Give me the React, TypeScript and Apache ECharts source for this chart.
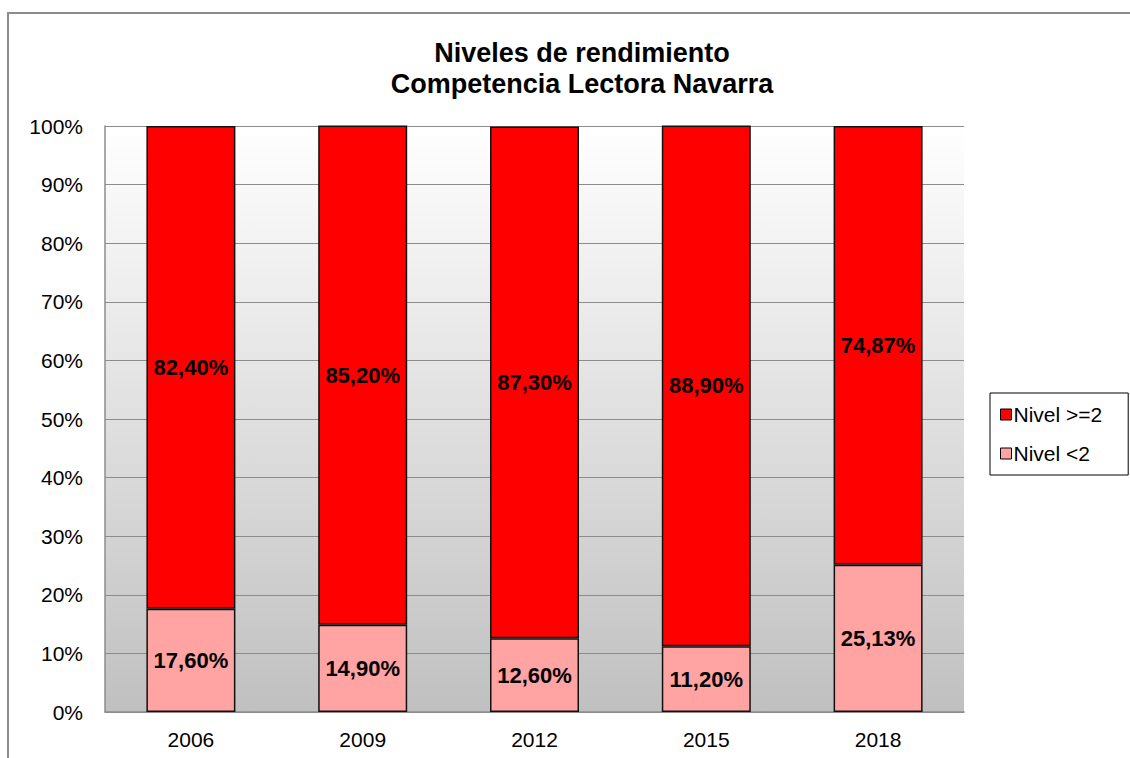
import React, { useEffect, useRef } from "react";
import * as echarts from "echarts";

const categories = ["2006", "2009", "2012", "2015", "2018"];
const nivelBajo = [17.6, 14.9, 12.6, 11.2, 25.13];
const nivelAlto = [82.4, 85.2, 87.3, 88.9, 74.87];
const yTicks = [0, 10, 20, 30, 40, 50, 60, 70, 80, 90, 100];

const fmt = (v: number) => v.toFixed(2).replace(".", ",") + "%";

export default function App() {
  const ref = useRef<HTMLDivElement>(null);
  useEffect(() => {
    document.body.style.margin = "0";
    const chart = echarts.init(ref.current!, null, { renderer: "svg" });
    const font = "Liberation Sans, Arial, sans-serif";
    chart.setOption({
      animation: false,
      textStyle: { fontFamily: font },
      graphic: [
        {
          type: "rect",
          shape: { x: 8, y: 13, width: 1200, height: 800 },
          style: { fill: "none", stroke: "#8c8c8c", lineWidth: 2 },
          silent: true,
          z: -10,
        },
      ],
      title: {
        text: "Niveles de rendimiento\nCompetencia Lectora Navarra",
        left: 577,
        textAlign: "center",
        top: 32,
        textStyle: { fontSize: 27, fontWeight: "bold", color: "#000", lineHeight: 31, fontFamily: font },
      },
      legend: {
        orient: "vertical",
        left: 990,
        top: 393,
        data: ["Nivel >=2", "Nivel <2"],
        icon: "rect",
        itemWidth: 11,
        itemHeight: 11,
        itemGap: 18,
        borderColor: "#000",
        borderWidth: 1,
        padding: [11, 26, 11, 10],
        textStyle: { fontSize: 21, color: "#000", fontFamily: font, padding: [0, 0, 0, -3] },
        itemStyle: { borderColor: "#000", borderWidth: 1 },
      },
      grid: {
        left: 105,
        right: 1130 - 964,
        top: 126,
        bottom: 758 - 712,
        show: true,
        borderWidth: 0,
        backgroundColor: new echarts.graphic.LinearGradient(0, 0, 0, 1, [
          { offset: 0, color: "#ffffff" },
          { offset: 1, color: "#c0c0c0" },
        ]),
      },
      xAxis: {
        type: "category",
        data: categories,
        axisLine: { lineStyle: { color: "#8c8c8c", width: 1.5 } },
        axisTick: { show: false },
        axisLabel: { fontSize: 21, color: "#000", margin: 17, fontFamily: font },
      },
      yAxis: {
        type: "value",
        min: 0,
        max: 100,
        interval: 10,
        axisLine: { show: true, lineStyle: { color: "#8c8c8c", width: 1.5 } },
        axisTick: { show: false },
        splitLine: { lineStyle: { color: "#8c8c8c", width: 1 } },
        axisLabel: {
          fontSize: 21,
          color: "#000",
          margin: 22,
          fontFamily: font,
          formatter: (v: number) => (yTicks.includes(v) ? v + "%" : ""),
        },
      },
      series: [
        {
          name: "Nivel <2",
          type: "bar",
          stack: "total",
          data: nivelBajo,
          barWidth: 89,
          itemStyle: { color: "#ffa3a3", borderColor: "#111", borderWidth: 1.5 },
          label: {
            show: true,
            position: "inside",
            formatter: (p: any) => fmt(p.value),
            fontSize: 22,
            fontWeight: "bold",
            color: "#000",
            fontFamily: font,
          },
        },
        {
          name: "Nivel >=2",
          type: "bar",
          stack: "total",
          data: nivelAlto,
          barWidth: 89,
          itemStyle: { color: "#ff0000", borderColor: "#111", borderWidth: 1.5 },
          label: {
            show: true,
            position: "inside",
            formatter: (p: any) => fmt(p.value),
            fontSize: 22,
            fontWeight: "bold",
            color: "#000",
            fontFamily: font,
          },
        },
      ],
    });
    return () => chart.dispose();
  }, []);
  return <div ref={ref} style={{ width: 1130, height: 758 }} />;
}
